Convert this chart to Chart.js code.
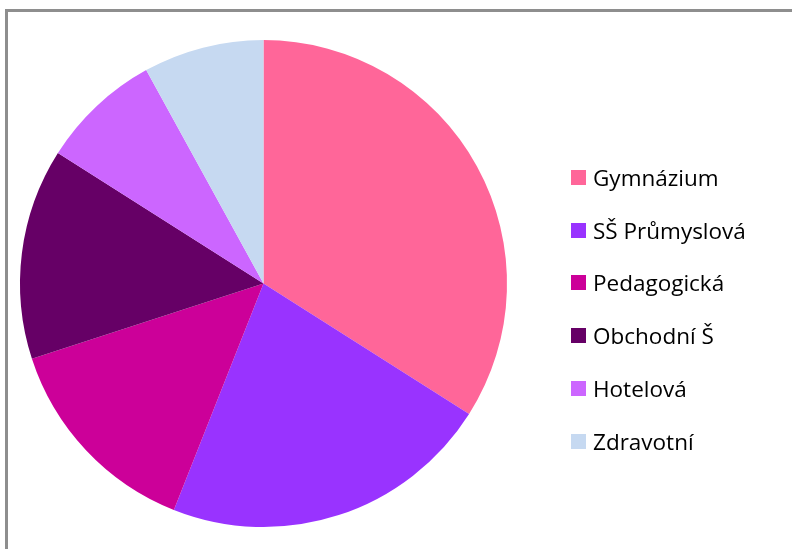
<!DOCTYPE html>
<html>
<head>
<meta charset="utf-8">
<script src="https://cdn.jsdelivr.net/npm/chart.js@4/dist/chart.umd.min.js"></script>
<style>
  html, body { margin: 0; padding: 0; background: #fff; }
  #wrap { position: relative; width: 792px; height: 549px; overflow: hidden; }
  #frame { position: absolute; left: 5px; top: 9px; width: 800px; height: 560px;
           border-left: 3px solid #8e8e8e; border-top: 3px solid #8e8e8e; box-sizing: border-box; }
  canvas { position: absolute; left: 0; top: 0; }
  #legend { position: absolute; left: 571px; top: 0; font-family: "Open Sans", Lato, sans-serif;
            font-size: 22.5px; color: #000; }
  .item { position: absolute; left: 0; display: flex; align-items: center; white-space: nowrap; height: 20px; }
  .box { width: 15px; height: 15px; margin-right: 7px; flex: none; }
</style>
</head>
<body>
<div id="wrap">
  <div id="frame"></div>
  <canvas id="c" width="792" height="549"></canvas>
  <div id="legend"></div>
</div>
<script>
const categories = ["Gymnázium", "SŠ Průmyslová", "Pedagogická", "Obchodní Š", "Hotelová", "Zdravotní"];
const values = [34, 22, 14, 14, 8, 8];
const colors = ["#FF6699", "#9933FF", "#CC0099", "#660066", "#CC66FF", "#C6D9F1"];

new Chart(document.getElementById('c'), {
  type: 'pie',
  data: {
    labels: categories,
    datasets: [{ data: values, backgroundColor: colors, borderWidth: 0 }]
  },
  options: {
    responsive: false,
    animation: false,
    layout: { padding: { left: 20, top: 40, right: 285, bottom: 22 } },
    plugins: { legend: { display: false }, tooltip: { enabled: false } }
  }
});

const legend = document.getElementById('legend');
categories.forEach((name, i) => {
  const row = document.createElement('div');
  row.className = 'item';
  row.style.top = (167.5 + i * 52.7) + 'px';
  const box = document.createElement('span');
  box.className = 'box';
  box.style.background = colors[i];
  const txt = document.createElement('span');
  txt.textContent = name;
  row.appendChild(box);
  row.appendChild(txt);
  legend.appendChild(row);
});
</script>
</body>
</html>
